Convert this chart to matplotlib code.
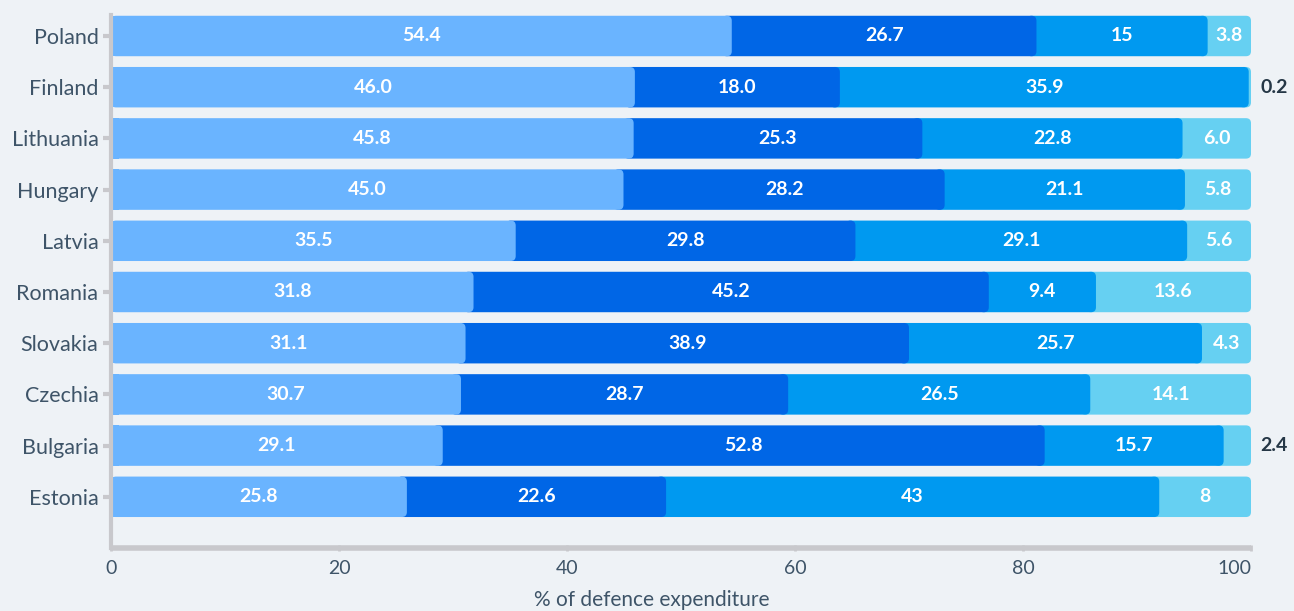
import matplotlib
matplotlib.use("Agg")
import matplotlib.pyplot as plt
from matplotlib.patches import FancyBboxPatch, Rectangle

plt.rcParams['font.family'] = ['Lato', 'DejaVu Sans']

countries = ["Poland", "Finland", "Lithuania", "Hungary", "Latvia",
             "Romania", "Slovakia", "Czechia", "Bulgaria", "Estonia"]
s1 = [54.4, 46.0, 45.8, 45.0, 35.5, 31.8, 31.1, 30.7, 29.1, 25.8]
s2 = [26.7, 18.0, 25.3, 28.2, 29.8, 45.2, 38.9, 28.7, 52.8, 22.6]
s3 = [15, 35.9, 22.8, 21.1, 29.1, 9.4, 25.7, 26.5, 15.7, 43]
s4 = [3.8, 0.2, 6.0, 5.8, 5.6, 13.6, 4.3, 14.1, 2.4, 8]
lab1 = ["54.4", "46.0", "45.8", "45.0", "35.5", "31.8", "31.1", "30.7", "29.1", "25.8"]
lab2 = ["26.7", "18.0", "25.3", "28.2", "29.8", "45.2", "38.9", "28.7", "52.8", "22.6"]
lab3 = ["15", "35.9", "22.8", "21.1", "29.1", "9.4", "25.7", "26.5", "15.7", "43"]
lab4 = ["3.8", "0.2", "6.0", "5.8", "5.6", "13.6", "4.3", "14.1", "2.4", "8"]
xticks = [0, 20, 40, 60, 80, 100]
xlabel = "% of defence expenditure"

colors = ["#6AB4FF", "#0066E6", "#0099F0", "#66D0F2"]
bg = "#EEF2F6"
txt = "#3E5468"

W, H = 1294, 611
fig = plt.figure(figsize=(W / 100, H / 100), dpi=100, facecolor=bg)
x0, x1 = 111 / W, 1251 / W
y0, y1 = 1 - 548 / H, 1 - 15 / H
ax = fig.add_axes([x0, y0, x1 - x0, y1 - y0], facecolor=bg)
ax.set_xlim(0, 100)
ax.set_ylim(10.0, -0.41)

px_per_x = (1251 - 111) / 100
px_per_y = (548 - 15) / 10.41
r_px = 5
rx = r_px / px_per_x
aspect = px_per_x / px_per_y

bar_h = 0.79
series = [s1, s2, s3, s4]
labels = [lab1, lab2, lab3, lab4]

for i, c in enumerate(countries):
    raw = [s[i] for s in series]
    tot = sum(raw)
    vals = [v / tot * 100 for v in raw]  # percent stacking
    starts = []
    acc = 0
    for v in vals:
        starts.append(acc)
        acc += v
    for k in range(3, -1, -1):
        st = starts[k]
        en = st + vals[k]
        left = 0 if k == 0 else max(0, st - 2 * rx)
        p = FancyBboxPatch((left, i - bar_h / 2), en - left, bar_h,
                           boxstyle=f"round,pad=0,rounding_size={rx}",
                           mutation_aspect=aspect,
                           facecolor=colors[k], edgecolor="none", zorder=2 + (3 - k) * 0.1)
        ax.add_patch(p)
    ax.add_patch(Rectangle((0, i - bar_h / 2), rx * 1.5, bar_h, facecolor=colors[0],
                           edgecolor="none", zorder=2.4))
    for k in range(4):
        st = starts[k]
        v = vals[k]
        if raw[k] < 3:
            ax.text(102.0, i, labels[k][i], ha="center", va="center", color="#253746",
                    fontsize=14, fontweight="bold", zorder=5, clip_on=False)
        else:
            ax.text(st + v / 2, i, labels[k][i], ha="center", va="center", color="white",
                    fontsize=14, fontweight="bold", zorder=5)

ax.set_yticks(range(len(countries)))
ax.set_yticklabels(countries)
ax.set_xticks(xticks)
ax.set_xticklabels([str(t) for t in xticks])
tl = ax.get_xticklabels()
tl[-1].set_horizontalalignment("right")
ax.tick_params(axis="y", length=6, width=3, color="#C8C8CC", labelsize=15.5,
               labelcolor=txt, pad=3)
ax.tick_params(axis="x", length=5, width=2, color="#C8C8CC", labelsize=14,
               labelcolor=txt, direction="inout", pad=6)
for s in ["top", "right"]:
    ax.spines[s].set_visible(False)
ax.spines["left"].set_color("#C8C8CC")
ax.spines["left"].set_linewidth(3)
ax.spines["bottom"].set_color("#C8C8CC")
ax.spines["bottom"].set_linewidth(4)
ax.spines["bottom"].set_capstyle("butt")
ax.set_xlabel(xlabel, fontsize=15, color=txt)
ax.xaxis.set_label_coords(0.474, -0.078)

fig.savefig("out.png", dpi=100, facecolor=bg)
